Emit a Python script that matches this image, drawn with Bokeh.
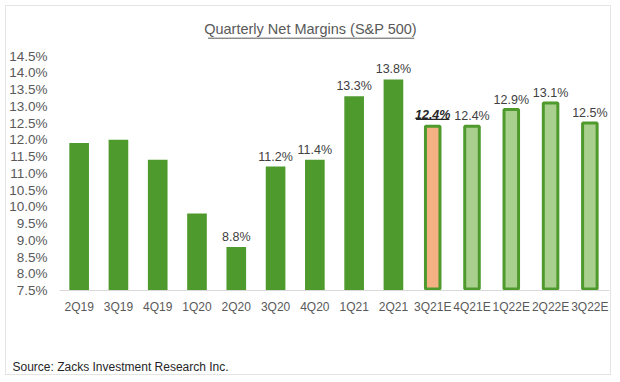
from bokeh.plotting import figure
from bokeh.models import FactorRange, Range1d, FixedTicker, Label, Title, ColumnDataSource, CustomJSTickFormatter
from bokeh.core.properties import value
from bokeh.embed import file_html
from bokeh.resources import INLINE

# ---- data ----
quarters = ["2Q19", "3Q19", "4Q19", "1Q20", "2Q20", "3Q20", "4Q20", "1Q21", "2Q21",
            "3Q21E", "4Q21E", "1Q22E", "2Q22E", "3Q22E"]
net_margin = [11.9, 12.0, 11.4, 9.8, 8.8, 11.2, 11.4, 13.3, 13.8,
              12.4, 12.4, 12.9, 13.1, 12.5]
is_estimate = [False] * 9 + [True] * 5
show_label = [False] * 4 + [True] * 10
current_quarter = "3Q21E"
y_ticks = [7.5, 8.0, 8.5, 9.0, 9.5, 10.0, 10.5, 11.0, 11.5, 12.0, 12.5, 13.0, 13.5, 14.0, 14.5]
title_text = "Quarterly Net Margins (S&P 500)"
source_text = "Source: Zacks Investment Research Inc."

# ---- style / layout ----
FONT = "Liberation Sans"
DARK = "#4E9A2C"
LIGHT = "#A9D08E"
SALMON = "#F4B183"
GRAY = "#595959"
W, H = 606, 370
B_LEFT, B_RIGHT, B_TOP, B_BOTTOM = 51, 3, 4, 86
FRAME_BOTTOM = H - B_BOTTOM
Y0, Y1 = 7.5, 7.5 + (H - B_TOP - B_BOTTOM) / 33.5
px_per_unit = (H - B_TOP - B_BOTTOM) / (Y1 - Y0)
px_per_cat = (W - B_LEFT - B_RIGHT) / len(quarters)

p = figure(width=W, height=H, output_backend="svg", toolbar_location=None,
           x_range=FactorRange(*quarters), y_range=Range1d(Y0, Y1),
           min_border_left=B_LEFT, min_border_right=B_RIGHT,
           min_border_top=B_TOP, min_border_bottom=B_BOTTOM)
p.outline_line_color = None
p.xgrid.grid_line_color = None
p.ygrid.grid_line_color = None
p.styles = {"border": "1px solid #e4e4e4", "margin-left": "5px", "margin-top": "5px"}

actual = ColumnDataSource(dict(
    x=[q for q, e in zip(quarters, is_estimate) if not e],
    top=[v for v, e in zip(net_margin, is_estimate) if not e]))
est = ColumnDataSource(dict(
    x=[q for q, e in zip(quarters, is_estimate) if e],
    top=[v for v, e in zip(net_margin, is_estimate) if e],
    fill=[SALMON if q == current_quarter else LIGHT for q, e in zip(quarters, is_estimate) if e]))

p.vbar(x="x", top="top", bottom=Y0, width=0.5, source=actual,
       fill_color=DARK, line_color=None)
p.vbar(x="x", top="top", bottom=Y0 + 1.5 / px_per_unit, width=0.37, source=est,
       fill_color="fill", line_color=DARK, line_width=3)

# data labels
reg = ColumnDataSource(dict(
    x=[q for q, s in zip(quarters, show_label) if s and q != current_quarter],
    y=[v for q, v, s in zip(quarters, net_margin, show_label) if s and q != current_quarter],
    t=["%.1f%%" % v for q, v, s in zip(quarters, net_margin, show_label) if s and q != current_quarter]))
p.text(x="x", y="y", text="t", source=reg, text_align="center", text_baseline="alphabetic",
       y_offset=-10, text_font=value(FONT), text_font_size="12.5px", text_color="#404040")

ci = quarters.index(current_quarter)
cur = ColumnDataSource(dict(x=[current_quarter], y=[net_margin[ci]], t=["%.1f%%" % net_margin[ci]]))
p.text(x="x", y="y", text="t", source=cur, text_align="center", text_baseline="alphabetic",
       y_offset=-11, text_font=value(FONT), text_font_size="12.5px", text_font_style="bold italic",
       text_color="#262626")
uy = net_margin[ci] + 7 / px_per_unit
p.segment(x0=[ci + 0.5 - 16.7 / px_per_cat], x1=[ci + 0.5 + 16.7 / px_per_cat],
          y0=[uy], y1=[uy], line_color="#262626", line_width=1.2)

# axes
p.yaxis.ticker = FixedTicker(ticks=y_ticks)
p.yaxis.formatter = CustomJSTickFormatter(code="return tick.toFixed(1) + '%';")
p.yaxis.axis_line_color = None
p.yaxis.major_tick_line_color = None
p.yaxis.minor_tick_line_color = None
p.yaxis.major_tick_out = 0
p.yaxis.major_label_standoff = 12
p.yaxis.major_label_text_font = FONT
p.yaxis.major_label_text_font_size = "13.5px"
p.yaxis.major_label_text_color = GRAY

p.xaxis.axis_line_color = "#d9d9d9"
p.xaxis.major_tick_line_color = None
p.xaxis.minor_tick_line_color = None
p.xaxis.major_tick_out = 0
p.xaxis.major_label_standoff = 9
p.xaxis.major_label_text_font = FONT
p.xaxis.major_label_text_font_size = "12px"
p.xaxis.major_label_text_color = GRAY

# title (underlined)
tx = (303 - B_LEFT) / px_per_cat
ty = Y0 + (FRAME_BOTTOM - 22.5) / px_per_unit
p.add_layout(Label(x=tx, y=ty, text=title_text, text_align="center", text_baseline="middle",
                   text_font=FONT, text_font_size="14.5px", text_color=GRAY))
uly = Y0 + (FRAME_BOTTOM - 31.7) / px_per_unit
p.segment(x0=[(200 - B_LEFT) / px_per_cat], x1=[(407 - B_LEFT) / px_per_cat], y0=[uly], y1=[uly],
          line_color=GRAY, line_width=1)

# source note below the axis (a thin spacer title first, then the note)
p.add_layout(Title(text=" ", text_font_size="1px", standoff=38), "below")
p.add_layout(Title(text=source_text, align="left", offset=-47, text_font=FONT, standoff=0,
                   text_font_size="12px", text_font_style="normal", text_color="#262626"), "below")

open("out.html", "w").write(file_html(p, INLINE))
